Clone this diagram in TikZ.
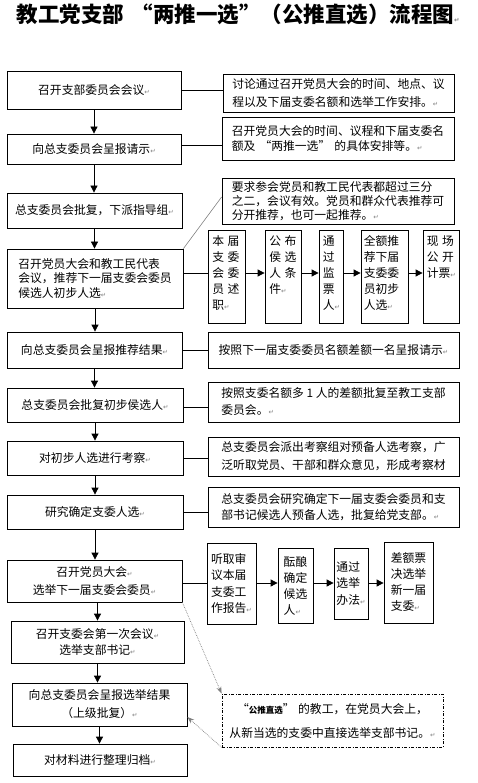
\documentclass[tikz,border=0pt]{standalone}
\usepackage{fontspec}
\setmainfont{Noto Sans CJK SC}
\newfontfamily\dejavu{DejaVu Sans}
\usetikzlibrary{arrows.meta}
\newcommand\ret{{\dejavu\fontsize{6.5}{6.5}\selectfont\textcolor{gray}{↵}}}
\newcommand\gap{\hspace{3.5pt}}
\newcommand\oqm{\hspace{0.35em}“}
\newcommand\cqm{”\hspace{0.35em}}
\begin{document}
\begin{tikzpicture}[x=1pt,y=-1pt,
  box/.style={draw, line width=0.8pt, inner sep=0pt, align=left, font=\fontsize{11.8}{16}\selectfont},
  lh/.style={font=\fontsize{11.8}{#1}\selectfont},
  sz/.style args={#1x#2}{minimum width=#1pt, minimum height=#2pt},
  stext/.style={anchor=north west, inner sep=0pt, align=left, font=\fontsize{11.8}{16}\selectfont},
  arr/.style={line width=0.8pt, -{Triangle[length=7pt,width=7pt]}},
  link/.style={line width=0.8pt},
  dotarr/.style={gray, line width=0.7pt, densely dotted, -{Stealth[length=7pt,width=5pt]}},
]
\useasboundingbox (0,0) rectangle (478,783);

% title
\node[font=\bfseries\fontsize{21.5}{21.5}\selectfont, inner sep=0pt] (T) at (238,14.5) {教工党支部\oqm 两推一选”（公推直选）流程图\ret};

% left column
\node[box,sz=174x38] (L1) at (94,90) {召开支部委员会会议\ret};
\node[box,sz=174x30] (L2) at (94,149) {向总支委员会呈报请示\ret};
\node[box,sz=175x35] (L3) at (94.5,210.5) {总支委员会批复，下派指导组\ret};
\node[box,sz=176x59,lh=14.5] (L4) at (95,278.5) {召开党员大会和教工民代表\\会议，推荐下一届支委会委员\\候选人初步人选\ret};
\node[box,sz=175x36] (L5) at (94.5,350) {向总支委员会呈报推荐结果\ret};
\node[box,sz=176x34] (L6) at (95,405) {总支委员会批复初步侯选人\ret};
\node[box,sz=176x34] (L7) at (95,458) {对初步人选进行考察\ret};
\node[box,sz=176x34] (L8) at (95,512) {研究确定支委人选\ret};
\node[box,sz=175x42,align=center,lh=18] (L9) at (94.5,581) {召开党员大会\ret\\选举下一届支委会委员\ret};
\node[box,sz=173x42,align=center,lh=16] (L10) at (97.5,642) {召开支委会第一次会议\ret\\选举支部书记\ret};
\node[box,sz=175x43,align=center,lh=18] (L11) at (99.5,704.5) {向总支委员会呈报选举结果\\（上级批复）\ret};
\node[box,sz=174x32] (L12) at (100,760) {对材料进行整理归档\ret};

% right boxes
\node[box,sz=231x38,lh=18] (R1) at (338.5,93) {讨论通过召开党员大会的时间、地点、议\\程以及下届支委名额和选举工作安排。\ret};
\node[box,sz=232x43,lh=15] (R2) at (338,138.5) {召开党员大会的时间、议程和下届支委名\\额及\oqm 两推一选\cqm 的具体安排等。\ret};
\node[box,sz=232x46,lh=14] (R3) at (338,201) {要求参会党员和教工民代表都超过三分\\之二，会议有效。党员和群众代表推荐可\\分开推荐，也可一起推荐。\ret};
\node[box,sz=251x36] (R5) at (333.5,350) {按照下一届支委委员名额差额一名呈报请示\ret};
\node[box,sz=251x40,lh=17] (R6) at (333.5,402) {按照支委名额多 1 人的差额批复至教工支部\\委员会。\ret};
\node[box,sz=251x39,lh=18] (R7) at (333.5,456.5) {总支委员会派出考察组对预备人选考察，广\\泛听取党员、干部和群众意见，形成考察材};
\node[box,sz=251x40,lh=16] (R8) at (333.5,507) {总支委员会研究确定下一届支委会委员和支\\部书记候选人预备人选，批复给党支部。\ret};

% first row of small boxes
\node[box,sz=37x93] (B1) at (226.5,276.5) {};
\node[box,sz=36x93] (B2) at (283,276.5) {};
\node[box,sz=24x93] (B3) at (331,276.5) {};
\node[box,sz=47x93] (B4) at (384.5,276.5) {};
\node[box,sz=36x93] (B5) at (441,276.5) {};
\node[stext] (B1t) at ([xshift=4.5pt,yshift=-6pt]B1.north west) {本\gap 届\\支\gap 委\\会\gap 委\\员\gap 述\\职\ret};
\node[stext] (B2t) at ([xshift=4.5pt,yshift=-6pt]B2.north west) {公\gap 布\\侯\gap 选\\人\gap 条\\件\ret};
\node[stext] (B3t) at ([xshift=4pt,yshift=-6pt]B3.north west) {通\\过\\监\\票\\人\ret};
\node[stext] (B4t) at ([xshift=3pt,yshift=-6pt]B4.north west) {全额推\\荐下届\\支委委\\员初步\\人选\ret};
\node[stext] (B5t) at ([xshift=4pt,yshift=-6pt]B5.north west) {现\gap 场\\公\gap 开\\计票\ret};

% second row of small boxes
\node[box,sz=49x81,lh=16.5] (C1) at (231.5,583.5) {听取审\\议本届\\支委工\\作报告\ret};
\node[box,sz=35x75,lh=16] (C2) at (295.5,585.5) {酝酿\\确定\\候选\\人\ret};
\node[box,sz=34x71,lh=16.5] (C3) at (351,583.5) {通过\\选举\\办法\ret};
\node[box,sz=49x81,lh=16] (C4) at (408.5,582.5) {差额票\\决选举\\新一届\\支委\ret};

% dashed note
\node[box, dash pattern=on 3pt off 1.5pt on 1pt off 1.5pt, sz=221x53, align=center, lh=24] (D) at (332.5,720.5) {“{\bfseries\fontsize{8.5}{8.5}\selectfont 公推直选}”\hspace{0.3em}的教工，在党员大会上，\\从新当选的支委中直接选举支部书记。\ret};

% helper rows
\coordinate (ya) at (0,273);
\coordinate (yb) at (0,583);

% vertical arrows
\draw[arr] (L1.south) -- (L1.south |- L2.north);
\draw[arr] (L2.south) -- (L2.south |- L3.north);
\draw[arr] (L3.south) -- (L3.south |- L4.north);
\draw[arr] (L4.south) -- (L4.south |- L5.north);
\draw[arr] (L5.south) -- (L5.south |- L6.north);
\draw[arr] (L6.south) -- (L6.south |- L7.north);
\draw[arr] (L7.south) -- (L7.south |- L8.north);
\draw[arr] (L8.south) -- (L8.south |- L9.north);
\draw[arr] (L10.north |- L9.south) -- (L10.north);
\draw[arr] (L10.south) -- (L10.south |- L11.north);
\draw[arr] (L11.south) -- (L11.south |- L12.north);

% horizontal links
\draw[link] (L1.east) -- (L1.east -| R1.west);
\draw[link] ([yshift=4pt]L2.east) -- ([yshift=4pt]L2.east -| R2.west);
\draw[gray, line width=0.6pt] (L4.north east) -- ([yshift=4pt]R3.west);
\draw[link] (L4.east |- ya) -- (B1.west |- ya);
\draw[arr] (B1.east |- ya) -- (B2.west |- ya);
\draw[arr] (B2.east |- ya) -- (B3.west |- ya);
\draw[arr] (B3.east |- ya) -- (B4.west |- ya);
\draw[arr] (B4.east |- ya) -- (B5.west |- ya);
\draw[link] (L5.east) -- (L5.east -| R5.west);
\draw[link] ([yshift=-2pt]L6.east) -- ([yshift=-2pt]L6.east -| R6.west);
\draw[link] (L7.east) -- (L7.east -| R7.west);
\draw[link] (L8.east) -- (L8.east -| R8.west);
\draw[link] (L9.east |- yb) -- (C1.west |- yb);
\draw[arr] (C1.east |- yb) -- (C2.west |- yb);
\draw[arr] (C2.east |- yb) -- (C3.west |- yb);
\draw[arr] (C3.east |- yb) -- (C4.west |- yb);

% dotted arrows
\draw[dotarr] (L9.south east) -- (D.north west);
\draw[dotarr] (D.south west) -- ([yshift=-12.5pt]L11.east);
\end{tikzpicture}
\end{document}
